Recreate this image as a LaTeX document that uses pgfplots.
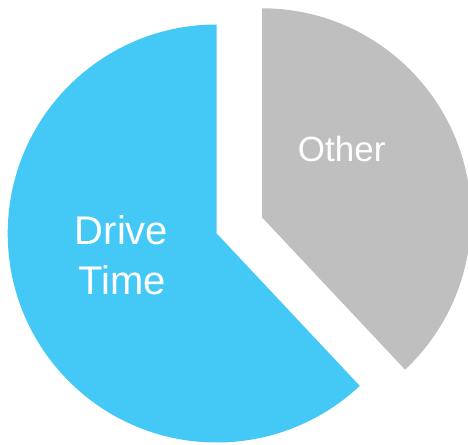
\documentclass[border=0pt]{standalone}
\usepackage{pgfplots}
\usepackage{pgfplotstable}
\pgfplotsset{compat=1.18}
\usepackage{fontspec}
\setmainfont{Liberation Sans}
\definecolor{driveblue}{HTML}{44C8F5}
\definecolor{othergray}{HTML}{BFBFBF}
\pgfplotstableread{
label value
Drive 62
Other 38
}\piedata
\begin{document}
\begin{tikzpicture}
\pgfplotstablegetelem{0}{value}\of\piedata \let\vDrive\pgfplotsretval
\pgfplotstablegetelem{1}{value}\of\piedata \let\vOther\pgfplotsretval
\pgfmathsetmacro{\total}{\vDrive+\vOther}
\pgfmathsetmacro{\aDrive}{\vDrive/\total*360}
\pgfmathsetmacro{\aEnd}{90+\aDrive}
\pgfmathsetmacro{\aEndO}{\aEnd-360}
\begin{axis}[
  scale only axis,
  width=468pt, height=444pt,
  xmin=0, xmax=468, ymin=0, ymax=444,
  hide axis,
  clip=true,
]
% Drive Time slice (from top, counter-clockwise)
\fill[driveblue] (axis cs:216.7,210.5) -- ++(90:209pt)
   arc[start angle=90, end angle=\aEnd, radius=209pt] -- cycle;
% Other slice (exploded)
\fill[othergray] (axis cs:262,226.7) -- ++(90:209pt)
   arc[start angle=90, end angle=\aEndO, radius=209pt] -- cycle;
\node[anchor=base, text=white, font=\fontsize{40}{50}\selectfont] at (axis cs:121.5,199) {Drive};
\node[anchor=base, text=white, font=\fontsize{40}{50}\selectfont] at (axis cs:122.5,149) {Time};
\node[anchor=base, text=white, font=\fontsize{35}{42}\selectfont] at (axis cs:341.7,282) {Other};
\end{axis}
\pgfresetboundingbox
\path[use as bounding box] (current axis.south west) rectangle (current axis.north east);
\end{tikzpicture}
\end{document}
